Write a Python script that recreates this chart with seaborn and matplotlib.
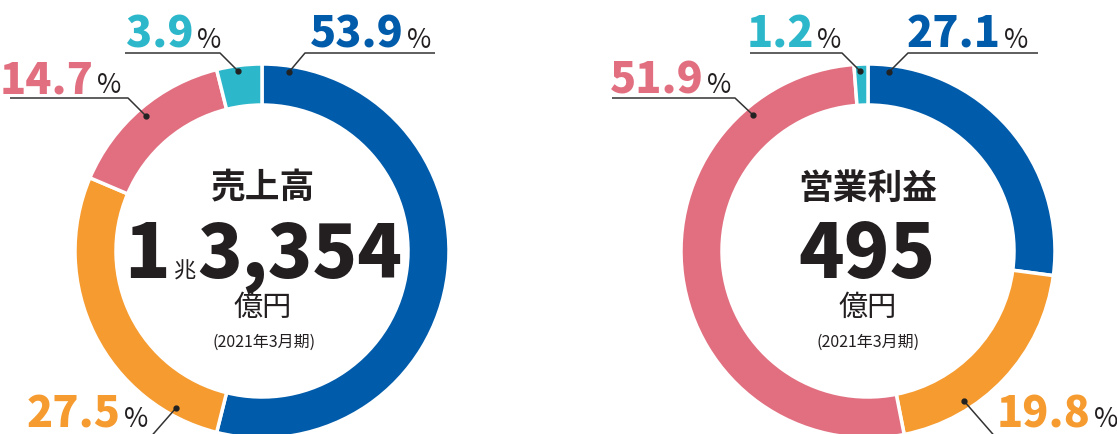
import matplotlib
matplotlib.use("Agg")
import matplotlib.pyplot as plt
import seaborn as sns

# datos
segmentos = ["A", "B", "C", "D"]
ventas_pct = [53.9, 27.5, 14.7, 3.9]
beneficio_pct = [27.1, 19.8, 51.9, 1.2]
colores = sns.color_palette(["#005bab", "#f59b30", "#e16f80", "#2cb7ca"])

titulo_izq = "売上高"
titulo_der = "営業利益"
unidad = "億円"
periodo = "(2021年3月期)"

sns.set_theme(style="white")
plt.rcParams['font.family'] = ['Noto Sans CJK JP', 'DejaVu Sans']

W, H = 1117, 434
fig = plt.figure(figsize=(W / 100, H / 100), dpi=100)
ax = fig.add_axes([0, 0, 1, 1])

def Y(y):
    # coordenadas de imagen (y hacia abajo) -> datos
    return H - y

R = 187
ancho = 41

# Donas
ax.pie(ventas_pct, colors=colores, startangle=90, counterclock=False,
       center=(262, Y(251)), radius=R,
       wedgeprops=dict(width=ancho, edgecolor="white", linewidth=2.5))
ax.pie(beneficio_pct, colors=colores, startangle=90, counterclock=False,
       center=(868, Y(251)), radius=R,
       wedgeprops=dict(width=ancho, edgecolor="white", linewidth=2.5))

ax.set_xlim(0, W)
ax.set_ylim(0, H)
ax.set_aspect("equal")
ax.axis("off")

negro = "#231f20"

def etiqueta(valor, color, x_fin, y_base, puntos, punto):
    ax.text(x_fin, Y(y_base), f"{valor:.1f}", color=color, fontsize=31,
            fontweight="heavy", ha="right", va="baseline")
    ax.text(x_fin + 3, Y(y_base), "%", color=negro, fontsize=19,
            ha="left", va="baseline")
    xs = [p[0] for p in puntos]
    ys = [Y(p[1]) for p in puntos]
    ax.plot(xs, ys, color="#333333", lw=1.1, solid_capstyle="butt")
    ax.plot(punto[0], Y(punto[1]), "o", color="#222222", ms=3.5)

# izquierda
etiqueta(ventas_pct[0], colores[0], 404, 48, [(435, 53), (305, 53), (289, 72)], (289, 72))
etiqueta(ventas_pct[3], colores[3], 194, 48, [(125, 53), (220, 53), (238, 71)], (238, 71))
etiqueta(ventas_pct[2], colores[2], 94, 93, [(10, 98), (128, 98), (146, 116)], (146, 116))
etiqueta(ventas_pct[1], colores[1], 121, 427, [(176, 408), (148, 440)], (176, 408))

# derecha
etiqueta(beneficio_pct[0], colores[0], 1001, 48, [(1038, 53), (908, 53), (889, 72)], (889, 72))
etiqueta(beneficio_pct[3], colores[3], 814, 48, [(750, 53), (842, 53), (860, 71)], (860, 71))
etiqueta(beneficio_pct[2], colores[2], 704, 93, [(612, 98), (735, 98), (753, 115)], (753, 115))
etiqueta(beneficio_pct[1], colores[1], 1091, 427, [(964, 401), (998, 440)], (964, 401))

# centro izquierda
ax.text(263, Y(188), titulo_izq, fontsize=25, fontweight="bold", color=negro,
        ha="center", va="center")
ax.text(147, Y(278), "1", fontsize=54, fontweight="heavy", color=negro,
        ha="center", va="baseline")
ax.text(185, Y(278), "兆", fontsize=16, color=negro, ha="center", va="baseline")
ax.text(402, Y(278), "3,354", fontsize=53, fontweight="heavy", color=negro,
        ha="right", va="baseline")
ax.text(263, Y(308), unidad, fontsize=21, color=negro, ha="center", va="center")
ax.text(264, Y(342), periodo, fontsize=11.5, color=negro, ha="center", va="center")

# centro derecha
ax.text(868, Y(188), titulo_der, fontsize=25, fontweight="bold", color=negro,
        ha="center", va="center")
ax.text(867, Y(278), "495", fontsize=54, fontweight="heavy", color=negro,
        ha="center", va="baseline")
ax.text(868, Y(308), unidad, fontsize=21, color=negro, ha="center", va="center")
ax.text(868, Y(342), periodo, fontsize=11.5, color=negro, ha="center", va="center")

fig.savefig("out.png", dpi=100, facecolor="white")
